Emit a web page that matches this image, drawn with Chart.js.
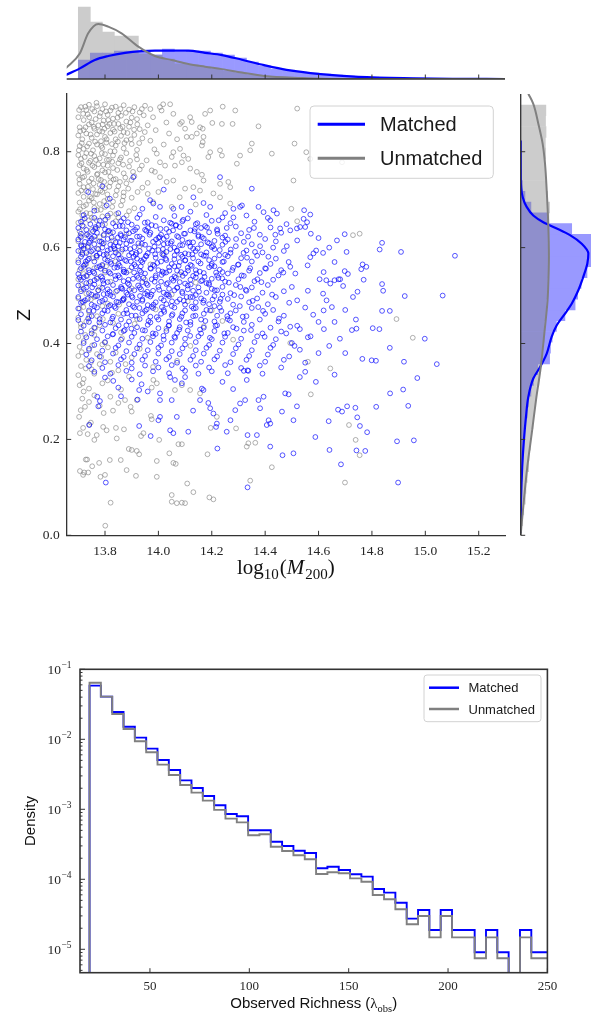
<!DOCTYPE html>
<html>
<head>
<meta charset="utf-8">
<script src="https://cdn.jsdelivr.net/npm/chart.js@4.4.1/dist/chart.umd.min.js"></script>
<style>
  html, body { margin: 0; padding: 0; background: #fff; overflow: hidden; }
  #page { position: relative; width: 591px; height: 1016px; }
  canvas { position: absolute; }
</style>
</head>
<body>
<div id="page">
  <canvas id="topHist" width="591" height="82" style="left:0px;top:0px"></canvas>
  <canvas id="scatter" width="591" height="600" style="left:0px;top:0px"></canvas>
  <canvas id="rightHist" width="81" height="560" style="left:510px;top:0px"></canvas>
  <canvas id="richness" width="591" height="376" style="left:0px;top:640px"></canvas>
</div>
<script>
Chart.defaults.font.family = "'Liberation Serif', serif";
Chart.defaults.color = '#222';

// ---- data ----
const seriesNames = ['Matched', 'Unmatched'];
const matchedColor = '#0000ff';
const unmatchedColor = '#808080';

const massTicks = [13.8, 14.0, 14.2, 14.4, 14.6, 14.8, 15.0, 15.2];
const zTicks = [0.0, 0.2, 0.4, 0.6, 0.8];
const richTicks = [50, 100, 150, 200, 250];
const densityTicks = [1e-5, 1e-4, 1e-3, 1e-2, 1e-1];

// scatter: flat pairs (log10 M200, z)
const unmatchedPts = [
  13.71,0.893, 13.73,0.887, 13.74,0.898, 13.76,0.884, 13.77,0.895, 13.79,0.889, 13.80,0.899, 13.82,0.886, 13.84,0.894, 13.85,0.881, 13.87,0.897, 13.89,0.888, 13.91,0.893, 13.93,0.882, 13.95,0.896, 13.97,0.889,
  13.70,0.872, 13.72,0.866, 13.735,0.878, 13.75,0.861, 13.78,0.874, 13.795,0.865, 13.81,0.877, 13.83,0.869, 13.86,0.875, 13.88,0.863, 13.90,0.871, 13.92,0.868, 13.945,0.876,
  13.705,0.851, 13.72,0.845, 13.74,0.857, 13.76,0.848, 13.775,0.855, 13.79,0.842, 13.81,0.853, 13.83,0.846, 13.85,0.858, 13.87,0.841, 13.89,0.852, 13.93,0.847, 13.96,0.855,
  13.70,0.834, 13.715,0.826, 13.73,0.838, 13.75,0.829, 13.77,0.836, 13.785,0.822, 13.80,0.831, 13.82,0.839, 13.84,0.826, 13.86,0.833, 13.88,0.824, 13.91,0.835, 13.94,0.828,
  13.705,0.812, 13.72,0.806, 13.74,0.817, 13.755,0.803, 13.77,0.815, 13.79,0.808, 13.805,0.819, 13.82,0.801, 13.84,0.813, 13.87,0.807, 13.90,0.816, 13.92,0.804,
  13.70,0.793, 13.71,0.785, 13.73,0.797, 13.745,0.781, 13.76,0.791, 13.78,0.786, 13.80,0.795, 13.815,0.783, 13.83,0.792, 13.86,0.788, 13.88,0.797, 13.92,0.784,
  13.705,0.772, 13.72,0.765, 13.74,0.777, 13.76,0.768, 13.775,0.774, 13.79,0.761, 13.81,0.771, 13.83,0.766, 13.85,0.776, 13.89,0.769, 13.93,0.763,
  13.70,0.754, 13.715,0.746, 13.735,0.758, 13.75,0.744, 13.77,0.752, 13.785,0.741, 13.80,0.757, 13.82,0.748, 13.84,0.743, 13.87,0.755, 13.91,0.749,
  13.705,0.733, 13.72,0.726, 13.74,0.738, 13.755,0.722, 13.78,0.731, 13.80,0.724, 13.82,0.736, 13.85,0.728, 13.88,0.734, 13.94,0.725,
  13.70,0.714, 13.72,0.706, 13.73,0.718, 13.75,0.703, 13.77,0.711, 13.79,0.716, 13.81,0.701, 13.84,0.709, 13.87,0.715, 13.90,0.704, 13.96,0.712,
  13.705,0.694, 13.72,0.686, 13.74,0.698, 13.76,0.683, 13.78,0.691, 13.80,0.685, 13.83,0.696, 13.86,0.688, 13.91,0.682,
  13.70,0.675, 13.715,0.667, 13.73,0.672, 13.75,0.662, 13.77,0.678, 13.79,0.665, 13.82,0.671, 13.85,0.663, 13.89,0.676,
  13.703,0.887, 13.718,0.879, 13.726,0.894, 13.741,0.872, 13.752,0.889, 13.765,0.868, 13.768,0.902, 13.783,0.881, 13.791,0.857, 13.804,0.884, 13.812,0.866,
  13.826,0.892, 13.834,0.858, 13.847,0.871, 13.858,0.889, 13.866,0.852, 13.878,0.881, 13.895,0.861, 13.903,0.884, 13.921,0.857, 13.938,0.889,
  13.707,0.843, 13.713,0.818, 13.727,0.851, 13.733,0.811, 13.746,0.836, 13.758,0.852, 13.763,0.821, 13.779,0.843, 13.786,0.812, 13.798,0.848, 13.806,0.826,
  13.817,0.858, 13.826,0.816, 13.836,0.842, 13.848,0.821, 13.857,0.849, 13.873,0.818, 13.884,0.839, 13.897,0.826, 13.909,0.846, 13.928,0.818, 13.949,0.841,
  13.702,0.803, 13.712,0.776, 13.724,0.789, 13.731,0.762, 13.748,0.796, 13.753,0.771, 13.766,0.783, 13.772,0.754, 13.788,0.797, 13.794,0.773, 13.807,0.783,
  13.813,0.758, 13.827,0.779, 13.836,0.801, 13.846,0.762, 13.856,0.784, 13.868,0.773, 13.876,0.746, 13.894,0.781, 13.905,0.758, 13.917,0.793, 13.938,0.771,
  13.704,0.742, 13.711,0.719, 13.722,0.748, 13.736,0.727, 13.744,0.706, 13.757,0.734, 13.764,0.712, 13.776,0.743, 13.783,0.719, 13.797,0.737,
  13.809,0.711, 13.816,0.727, 13.832,0.742, 13.844,0.719, 13.856,0.737, 13.869,0.707, 13.887,0.723, 13.899,0.741, 13.922,0.716,
  13.706,0.68, 13.717,0.658, 13.729,0.689, 13.744,0.671, 13.758,0.694, 13.769,0.657, 13.784,0.679, 13.797,0.697, 13.811,0.663, 13.827,0.685, 13.842,0.67, 13.866,0.698, 13.881,0.667,
  14.006,0.893, 14.018,0.899, 14.044,0.899, 14.056,0.879, 14.012,0.886, 14.081,0.858, 14.088,0.862, 14.119,0.872, 14.125,0.862, 14.156,0.851,
  14.166,0.848, 14.144,0.838, 14.175,0.879, 14.194,0.886, 14.241,0.894, 14.288,0.886, 14.202,0.86, 14.238,0.858, 14.278,0.858, 14.375,0.853,
  14.106,0.831, 14.125,0.831, 14.169,0.831, 14.166,0.82, 14.163,0.813, 14.056,0.799, 14.081,0.806, 14.05,0.789, 14.094,0.792, 14.088,0.778,
  14.062,0.771, 14.112,0.785, 14.119,0.765, 14.144,0.758, 14.163,0.752, 14.169,0.74, 14.187,0.789, 14.194,0.799, 14.231,0.803, 14.238,0.792,
  14.262,0.737, 14.269,0.726, 14.294,0.775, 14.306,0.792, 14.344,0.803, 14.35,0.817, 14.425,0.796, 14.231,0.705, 14.206,0.713, 14.156,0.719,
  14.131,0.726, 14.1,0.723, 14.056,0.74, 14.031,0.737, 14.006,0.747, 13.987,0.758, 13.975,0.761, 13.956,0.782, 13.994,0.796, 14.006,0.778,
  14.025,0.771, 14.269,0.692, 14.231,0.733, 13.98,0.872, 14.03,0.861, 13.99,0.845, 14.04,0.838, 13.97,0.823, 14.02,0.815, 13.985,0.805,
  14.07,0.826, 14.10,0.848, 13.96,0.735, 14.00,0.716, 14.08,0.705, 13.98,0.695, 14.05,0.685, 14.14,0.69,
  14.52,0.89, 14.51,0.817, 14.506,0.74, 14.554,0.799, 14.569,0.785, 14.688,0.778, 14.52,0.655, 14.498,0.681, 14.729,0.626, 14.754,0.629,
  14.892,0.451, 14.953,0.412, 14.754,0.167, 14.699,0.11, 14.714,0.23, 14.739,0.199, 14.56,0.362, 14.571,0.294, 14.644,0.348, 14.494,0.401,
  13.70,0.652, 13.72,0.644, 13.74,0.657, 13.77,0.641, 13.80,0.649, 13.84,0.655,
  13.705,0.634, 13.73,0.626, 13.75,0.637, 13.78,0.622, 13.82,0.631, 13.88,0.628,
  13.70,0.613, 13.72,0.604, 13.76,0.617, 13.79,0.608, 13.83,0.615, 13.93,0.603,
  13.71,0.593, 13.74,0.586, 13.77,0.598, 13.81,0.582, 13.86,0.591, 14.02,0.588,
  13.70,0.574, 13.73,0.566, 13.755,0.578, 13.79,0.562, 13.84,0.571, 13.97,0.565,
  13.705,0.553, 13.72,0.545, 13.76,0.557, 13.80,0.548, 13.89,0.552, 14.08,0.544,
  13.70,0.534, 13.74,0.526, 13.77,0.538, 13.82,0.529, 13.95,0.533, 14.14,0.527,
  13.71,0.513, 13.73,0.504, 13.78,0.517, 13.84,0.508, 13.90,0.515, 14.05,0.502,
  13.70,0.494, 13.72,0.486, 13.76,0.497, 13.81,0.483, 13.87,0.491, 14.11,0.488,
  13.705,0.473, 13.74,0.466, 13.79,0.478, 13.85,0.462, 13.99,0.471, 14.20,0.469,
  13.70,0.454, 13.73,0.446, 13.77,0.457, 13.83,0.443, 13.92,0.451, 14.24,0.447,
  13.71,0.434, 13.75,0.427, 13.78,0.438, 13.86,0.423, 14.03,0.431, 14.17,0.436,
  13.70,0.414, 13.72,0.405, 13.76,0.418, 13.80,0.402, 13.96,0.412, 14.28,0.408,
  13.705,0.393, 13.74,0.386, 13.79,0.398, 13.84,0.381, 13.93,0.389, 14.12,0.395,
  13.70,0.374, 13.73,0.366, 13.77,0.378, 13.82,0.362, 13.90,0.371, 14.07,0.364,
  13.71,0.353, 13.75,0.346, 13.78,0.357, 13.85,0.344, 13.98,0.351,
  13.70,0.334, 13.72,0.326, 13.76,0.337, 13.81,0.323, 13.89,0.331,
  13.705,0.313, 13.74,0.306, 13.79,0.317, 13.86,0.304,
  13.707,0.624, 13.716,0.589, 13.723,0.558, 13.711,0.522, 13.719,0.476, 13.709,0.441, 13.726,0.418, 13.713,0.382, 13.728,0.348, 13.716,0.317,
  13.738,0.603, 13.734,0.541, 13.747,0.492, 13.741,0.457, 13.752,0.396, 13.747,0.361, 13.768,0.579, 13.774,0.511, 13.763,0.432, 13.786,0.372,
  13.797,0.628, 13.804,0.561, 13.792,0.451, 13.811,0.392, 13.826,0.339, 13.838,0.596, 13.853,0.481, 13.864,0.411, 13.877,0.357, 13.911,0.441,
  13.801,0.02, 13.821,0.068, 13.706,0.134, 13.722,0.131, 13.737,0.131, 13.718,0.126, 13.728,0.158, 13.733,0.158, 13.752,0.144, 13.778,0.151,
  13.783,0.122, 13.80,0.126, 13.818,0.157, 13.859,0.157, 13.881,0.136, 13.916,0.124, 13.889,0.18, 13.90,0.178, 13.919,0.176, 13.928,0.169,
  13.871,0.221, 13.844,0.202, 13.769,0.209, 13.76,0.199, 13.706,0.213, 13.718,0.224, 13.735,0.211, 13.703,0.247, 13.709,0.261, 13.725,0.268,
  13.741,0.231, 13.747,0.235, 13.793,0.226, 13.806,0.219, 13.841,0.224, 13.935,0.207, 13.944,0.213, 13.972,0.249, 13.975,0.242, 14.003,0.199,
  13.994,0.155, 13.994,0.122, 14.041,0.171, 14.056,0.151, 14.065,0.149, 14.075,0.19, 14.088,0.19, 14.05,0.084, 14.05,0.07, 14.069,0.067,
  14.088,0.068, 14.10,0.067, 14.108,0.108, 14.131,0.09, 14.191,0.079, 14.206,0.075, 14.184,0.169, 14.196,0.224, 14.219,0.247, 14.291,0.223,
  14.331,0.185, 14.337,0.192, 14.344,0.114, 14.363,0.193, 14.425,0.142, 14.119,0.303, 14.156,0.296, 14.062,0.303, 14.088,0.313, 13.981,0.324,
  13.994,0.317, 13.975,0.308, 13.896,0.268, 13.875,0.282, 13.90,0.258, 13.919,0.282, 13.715,0.285, 13.74,0.278, 13.76,0.292, 13.78,0.27,
  13.82,0.289, 13.85,0.276, 13.72,0.30, 13.795,0.255, 13.83,0.26
];

const matchedPts = [
  13.72,0.668, 13.76,0.662, 13.81,0.667, 13.87,0.661, 13.93,0.669, 13.99,0.664, 14.06,0.666, 14.11,0.661, 14.18,0.668, 14.24,0.663, 14.33,0.667, 14.41,0.662,
  13.71,0.654, 13.745,0.649, 13.78,0.656, 13.83,0.651, 13.86,0.655, 13.90,0.648, 13.96,0.653, 14.02,0.657, 14.05,0.65, 14.09,0.655, 14.14,0.649, 14.20,0.656, 14.27,0.651, 14.36,0.654, 14.48,0.649,
  13.70,0.641, 13.73,0.637, 13.765,0.643, 13.80,0.638, 13.84,0.644, 13.88,0.636, 13.92,0.642, 13.95,0.637, 13.99,0.645, 14.03,0.639, 14.08,0.643, 14.12,0.636, 14.16,0.641, 14.22,0.638, 14.29,0.644, 14.34,0.637, 14.42,0.642,
  13.71,0.629, 13.74,0.624, 13.77,0.631, 13.795,0.626, 13.83,0.632, 13.86,0.625, 13.89,0.63, 13.93,0.623, 13.97,0.631, 14.01,0.627, 14.04,0.633, 14.07,0.624, 14.10,0.629, 14.15,0.626, 14.19,0.632, 14.25,0.625, 14.31,0.63, 14.38,0.627, 14.46,0.631,
  13.70,0.617, 13.725,0.612, 13.75,0.619, 13.78,0.613, 13.81,0.618, 13.84,0.611, 13.87,0.617, 13.90,0.614, 13.94,0.619, 13.98,0.612, 14.02,0.618, 14.05,0.613, 14.09,0.616, 14.13,0.611, 14.17,0.619, 14.21,0.614, 14.26,0.617, 14.32,0.612, 14.40,0.618, 14.44,0.613,
  13.71,0.605, 13.735,0.601, 13.76,0.607, 13.79,0.60, 13.82,0.606, 13.85,0.603, 13.88,0.608, 13.91,0.601, 13.95,0.606, 13.985,0.602, 14.02,0.607, 14.06,0.60, 14.09,0.605, 14.12,0.602, 14.16,0.607, 14.20,0.601, 14.24,0.606, 14.29,0.603, 14.35,0.607, 14.43,0.60,
  13.70,0.593, 13.73,0.589, 13.755,0.595, 13.78,0.588, 13.81,0.594, 13.84,0.59, 13.865,0.596, 13.90,0.589, 13.93,0.593, 13.96,0.588, 14.00,0.595, 14.03,0.591, 14.07,0.594, 14.10,0.588, 14.14,0.593, 14.18,0.59, 14.23,0.595, 14.27,0.589, 14.33,0.594, 14.39,0.59, 14.47,0.593,
  13.71,0.581, 13.74,0.577, 13.77,0.583, 13.80,0.576, 13.83,0.582, 13.86,0.578, 13.89,0.584, 13.92,0.577, 13.955,0.582, 13.99,0.579, 14.02,0.584, 14.06,0.576, 14.09,0.581, 14.13,0.578, 14.17,0.583, 14.21,0.577, 14.26,0.582, 14.31,0.578, 14.37,0.583, 14.44,0.577,
  13.70,0.569, 13.725,0.565, 13.76,0.571, 13.79,0.564, 13.82,0.57, 13.85,0.566, 13.88,0.572, 13.91,0.565, 13.94,0.57, 13.98,0.564, 14.01,0.571, 14.05,0.566, 14.08,0.57, 14.12,0.564, 14.15,0.571, 14.20,0.566, 14.24,0.57, 14.30,0.565, 14.35,0.571, 14.42,0.566,
  13.71,0.557, 13.74,0.553, 13.77,0.559, 13.80,0.552, 13.835,0.558, 13.87,0.554, 13.90,0.559, 13.93,0.552, 13.97,0.557, 14.00,0.553, 14.04,0.559, 14.07,0.552, 14.11,0.558, 14.14,0.553, 14.19,0.559, 14.23,0.554, 14.28,0.558, 14.34,0.552, 14.40,0.557, 14.46,0.553,
  13.70,0.545, 13.73,0.541, 13.76,0.547, 13.785,0.54, 13.82,0.546, 13.85,0.542, 13.88,0.548, 13.92,0.541, 13.95,0.546, 13.99,0.542, 14.02,0.547, 14.06,0.54, 14.10,0.546, 14.13,0.541, 14.17,0.547, 14.22,0.542, 14.26,0.546, 14.32,0.541, 14.38,0.547, 14.45,0.542,
  13.71,0.533, 13.745,0.529, 13.77,0.535, 13.81,0.528, 13.84,0.534, 13.87,0.53, 13.905,0.535, 13.94,0.528, 13.975,0.534, 14.01,0.529, 14.05,0.535, 14.08,0.528, 14.12,0.533, 14.16,0.53, 14.20,0.535, 14.25,0.529, 14.30,0.534, 14.36,0.53, 14.43,0.533,
  13.70,0.521, 13.73,0.517, 13.76,0.523, 13.79,0.516, 13.83,0.522, 13.86,0.518, 13.89,0.523, 13.93,0.517, 13.96,0.522, 14.00,0.518, 14.03,0.524, 14.07,0.516, 14.11,0.521, 14.15,0.517, 14.19,0.523, 14.24,0.518, 14.29,0.522, 14.35,0.517, 14.41,0.522, 14.50,0.518,
  13.71,0.509, 13.74,0.505, 13.775,0.511, 13.81,0.504, 13.845,0.51, 13.88,0.506, 13.91,0.511, 13.95,0.504, 13.98,0.51, 14.02,0.506, 14.06,0.511, 14.09,0.505, 14.13,0.51, 14.18,0.506, 14.22,0.511, 14.27,0.505, 14.33,0.51, 14.39,0.506, 14.47,0.509,
  13.70,0.497, 13.735,0.493, 13.765,0.499, 13.80,0.492, 13.83,0.498, 13.87,0.494, 13.90,0.499, 13.94,0.492, 13.97,0.498, 14.01,0.494, 14.04,0.499, 14.08,0.492, 14.12,0.497, 14.16,0.494, 14.21,0.499, 14.26,0.493, 14.31,0.498, 14.37,0.494, 14.44,0.497,
  13.71,0.485, 13.75,0.481, 13.78,0.487, 13.82,0.48, 13.85,0.486, 13.89,0.482, 13.92,0.487, 13.96,0.48, 13.99,0.486, 14.03,0.482, 14.07,0.487, 14.10,0.481, 14.14,0.486, 14.19,0.482, 14.23,0.487, 14.28,0.481, 14.34,0.486, 14.41,0.482, 14.49,0.485,
  13.70,0.473, 13.74,0.469, 13.77,0.475, 13.81,0.468, 13.84,0.474, 13.88,0.47, 13.91,0.475, 13.95,0.468, 13.98,0.474, 14.02,0.47, 14.06,0.475, 14.10,0.469, 14.14,0.474, 14.18,0.47, 14.23,0.475, 14.29,0.469, 14.35,0.474, 14.43,0.47,
  13.71,0.461, 13.75,0.457, 13.79,0.463, 13.83,0.456, 13.87,0.462, 13.90,0.458, 13.94,0.463, 13.97,0.456, 14.01,0.462, 14.05,0.458, 14.09,0.463, 14.13,0.457, 14.17,0.462, 14.22,0.458, 14.27,0.463, 14.33,0.457, 14.40,0.462, 14.47,0.458,
  13.70,0.449, 13.74,0.445, 13.78,0.451, 13.82,0.444, 13.86,0.45, 13.89,0.446, 13.93,0.451, 13.97,0.444, 14.00,0.45, 14.04,0.446, 14.08,0.451, 14.12,0.445, 14.16,0.45, 14.21,0.446, 14.26,0.451, 14.32,0.445, 14.38,0.45, 14.45,0.446,
  13.72,0.437, 13.76,0.433, 13.80,0.439, 13.84,0.432, 13.88,0.438, 13.92,0.434, 13.96,0.439, 14.00,0.432, 14.04,0.438, 14.08,0.434, 14.12,0.439, 14.17,0.433, 14.22,0.438, 14.28,0.434, 14.35,0.439, 14.42,0.433, 14.52,0.437,
  13.71,0.425, 13.75,0.421, 13.79,0.427, 13.83,0.42, 13.87,0.426, 13.91,0.422, 13.95,0.427, 13.99,0.42, 14.03,0.426, 14.07,0.422, 14.11,0.427, 14.16,0.421, 14.21,0.426, 14.26,0.422, 14.32,0.427, 14.39,0.421, 14.46,0.425,
  13.73,0.413, 13.77,0.409, 13.81,0.415, 13.86,0.408, 13.90,0.414, 13.94,0.41, 13.98,0.415, 14.02,0.408, 14.06,0.414, 14.10,0.41, 14.15,0.415, 14.20,0.409, 14.25,0.414, 14.31,0.41, 14.37,0.415, 14.44,0.409, 14.56,0.413,
  13.72,0.401, 13.76,0.397, 13.80,0.403, 13.85,0.396, 13.89,0.402, 13.93,0.398, 13.97,0.403, 14.01,0.396, 14.05,0.402, 14.10,0.398, 14.14,0.403, 14.19,0.397, 14.24,0.402, 14.30,0.398, 14.36,0.403, 14.43,0.397, 14.50,0.401,
  13.74,0.389, 13.79,0.385, 13.84,0.391, 13.88,0.384, 13.92,0.39, 13.96,0.386, 14.00,0.391, 14.05,0.384, 14.09,0.39, 14.14,0.386, 14.18,0.391, 14.23,0.385, 14.29,0.39, 14.35,0.386, 14.42,0.391, 14.53,0.387,
  13.73,0.377, 13.78,0.373, 13.83,0.379, 13.87,0.372, 13.91,0.378, 13.95,0.374, 14.00,0.379, 14.04,0.372, 14.08,0.378, 14.13,0.374, 14.17,0.379, 14.22,0.373, 14.28,0.378, 14.34,0.374, 14.41,0.377, 14.49,0.373,
  13.75,0.365, 13.80,0.361, 13.86,0.367, 13.90,0.36, 13.94,0.366, 13.99,0.362, 14.03,0.367, 14.07,0.36, 14.12,0.366, 14.16,0.362, 14.21,0.367, 14.27,0.361, 14.33,0.366, 14.40,0.362, 14.47,0.366,
  13.74,0.353, 13.79,0.349, 13.85,0.355, 13.90,0.348, 13.95,0.354, 14.00,0.35, 14.05,0.355, 14.09,0.348, 14.14,0.354, 14.19,0.35, 14.25,0.355, 14.31,0.349, 14.38,0.354, 14.46,0.35,
  13.76,0.341, 13.82,0.337, 13.88,0.343, 13.93,0.336, 13.98,0.342, 14.04,0.338, 14.10,0.343, 14.15,0.337, 14.20,0.342, 14.26,0.338, 14.32,0.343, 14.39,0.337, 14.55,0.341,
  13.715,0.646, 13.79,0.647, 13.855,0.645, 13.975,0.647, 14.065,0.646, 14.175,0.645,
  13.755,0.634, 13.815,0.635, 13.905,0.634, 13.955,0.635, 14.055,0.636, 14.135,0.634, 14.22,0.635,
  13.71,0.622, 13.76,0.623, 13.825,0.621, 13.875,0.622, 13.92,0.623, 14.00,0.621, 14.075,0.622, 14.15,0.623, 14.24,0.621,
  13.74,0.61, 13.795,0.609, 13.855,0.61, 13.925,0.609, 14.00,0.61, 14.035,0.609, 14.11,0.61, 14.19,0.609,
  13.72,0.598, 13.775,0.597, 13.835,0.598, 13.895,0.597, 13.965,0.598, 14.045,0.597, 14.13,0.598, 14.21,0.597,
  13.715,0.586, 13.795,0.585, 13.85,0.586, 13.915,0.585, 14.015,0.586, 14.085,0.585, 14.16,0.586, 14.25,0.585,
  13.735,0.574, 13.81,0.573, 13.875,0.574, 13.935,0.573, 14.03,0.574, 14.10,0.573, 14.19,0.574,
  13.72,0.562, 13.78,0.561, 13.855,0.562, 13.915,0.561, 13.985,0.562, 14.06,0.561, 14.125,0.562, 14.21,0.561,
  13.755,0.55, 13.815,0.549, 13.87,0.55, 13.935,0.549, 14.015,0.55, 14.085,0.549, 14.155,0.55, 14.24,0.549,
  13.72,0.538, 13.79,0.537, 13.855,0.538, 13.925,0.537, 13.99,0.538, 14.065,0.537, 14.14,0.538, 14.225,0.537,
  13.73,0.526, 13.795,0.525, 13.885,0.526, 13.955,0.525, 14.035,0.526, 14.10,0.525, 14.18,0.526,
  13.72,0.514, 13.81,0.513, 13.865,0.514, 13.935,0.513, 14.04,0.514, 14.11,0.513, 14.20,0.514,
  13.75,0.502, 13.82,0.501, 13.885,0.502, 13.96,0.501, 14.03,0.502, 14.14,0.501, 14.24,0.502,
  13.725,0.49, 13.79,0.489, 13.865,0.49, 13.94,0.489, 14.02,0.49, 14.095,0.489, 14.17,0.49,
  13.76,0.478, 13.835,0.477, 13.905,0.478, 13.975,0.477, 14.05,0.478, 14.125,0.477, 14.21,0.478,
  13.712,0.603, 13.728,0.571, 13.733,0.628, 13.741,0.548, 13.748,0.592, 13.752,0.517, 13.763,0.639, 13.768,0.583, 13.771,0.499, 13.784,0.556,
  13.787,0.612, 13.792,0.531, 13.798,0.469, 13.806,0.587, 13.811,0.634, 13.817,0.508, 13.823,0.566, 13.827,0.452, 13.832,0.603, 13.838,0.541,
  13.843,0.487, 13.848,0.621, 13.853,0.577, 13.861,0.515, 13.866,0.645, 13.872,0.549, 13.877,0.598, 13.883,0.463, 13.888,0.533, 13.894,0.614,
  13.897,0.571, 13.903,0.496, 13.909,0.548, 13.913,0.637, 13.918,0.589, 13.924,0.521, 13.929,0.474, 13.934,0.561, 13.938,0.608, 13.944,0.537,
  13.949,0.652, 13.953,0.583, 13.958,0.508, 13.963,0.447, 13.967,0.627, 13.972,0.556, 13.977,0.594, 13.982,0.481, 13.986,0.529, 13.991,0.617,
  13.996,0.568, 14.003,0.512, 14.008,0.639, 14.012,0.543, 14.017,0.597, 14.022,0.466, 14.027,0.577, 14.031,0.623, 14.036,0.502, 14.041,0.552,
  14.046,0.609, 14.051,0.488, 14.056,0.531, 14.061,0.584, 14.066,0.647, 14.071,0.517, 14.076,0.562, 14.081,0.605, 14.086,0.456, 14.091,0.541,
  14.096,0.629, 14.101,0.574, 14.106,0.497, 14.111,0.552, 14.116,0.611, 14.121,0.523, 14.127,0.586, 14.132,0.473, 14.137,0.639, 14.142,0.546,
  14.147,0.598, 14.152,0.508, 14.158,0.567, 14.163,0.622, 14.168,0.485, 14.173,0.539, 14.178,0.583, 14.184,0.611, 14.189,0.526, 14.194,0.469,
  14.199,0.562, 14.205,0.603, 14.211,0.511, 14.216,0.548, 14.222,0.629, 14.228,0.584, 14.233,0.493, 14.239,0.536, 14.245,0.571, 14.251,0.612,
  14.258,0.457, 14.264,0.527, 14.271,0.596, 14.277,0.553, 14.284,0.501, 14.291,0.618, 14.298,0.564, 14.305,0.478, 14.312,0.542, 14.319,0.589,
  14.327,0.512, 14.336,0.623, 14.344,0.557, 14.353,0.489, 14.362,0.591, 14.371,0.534, 14.381,0.603, 14.392,0.468, 14.403,0.556,
  13.705,0.538, 13.716,0.487, 13.724,0.661, 13.737,0.452, 13.744,0.614, 13.757,0.468, 13.761,0.532, 13.776,0.647, 13.779,0.444, 13.795,0.503,
  13.801,0.658, 13.814,0.478, 13.821,0.597, 13.829,0.419, 13.846,0.559, 13.851,0.438, 13.858,0.628, 13.869,0.492, 13.874,0.428, 13.886,0.653,
  13.891,0.512, 13.899,0.431, 13.907,0.581, 13.915,0.458, 13.921,0.662, 13.931,0.499, 13.941,0.428, 13.946,0.576, 13.956,0.471, 13.961,0.641,
  13.974,0.502, 13.979,0.421, 13.988,0.586, 13.994,0.455, 14.005,0.622, 14.013,0.476, 14.019,0.416, 14.029,0.548, 14.038,0.437, 14.044,0.652,
  14.053,0.461, 14.063,0.412, 14.069,0.593, 14.078,0.429, 14.089,0.508, 14.093,0.658, 14.104,0.444, 14.113,0.586, 14.119,0.416, 14.129,0.497,
  14.139,0.458, 14.146,0.651, 14.156,0.429, 14.164,0.532, 14.176,0.447, 14.182,0.642, 14.193,0.412, 14.203,0.492, 14.214,0.437, 14.226,0.657,
  14.236,0.468, 14.247,0.421, 14.256,0.641, 14.268,0.448, 14.281,0.663, 14.293,0.431, 14.307,0.518, 14.316,0.456, 14.332,0.579, 14.347,0.428,
  14.358,0.641, 14.374,0.476, 14.386,0.528, 14.398,0.414, 14.412,0.581, 14.426,0.502, 14.438,0.627, 14.452,0.452, 14.468,0.548, 14.481,0.603,
  14.231,0.747, 14.35,0.723, 14.131,0.705, 13.906,0.747, 13.818,0.702, 13.806,0.688, 13.737,0.716, 14.169,0.693, 14.194,0.685, 14.281,0.681,
  14.306,0.685, 14.313,0.688, 14.375,0.685, 14.394,0.674, 14.431,0.678, 14.444,0.671, 14.419,0.657, 14.456,0.64, 14.494,0.636, 14.519,0.64,
  13.981,0.692, 13.969,0.699, 14.006,0.685, 14.056,0.681, 14.087,0.685, 14.55,0.643, 14.557,0.653, 14.544,0.66, 14.531,0.643, 14.546,0.678,
  14.569,0.669, 14.571,0.629, 13.76,0.677, 13.85,0.672, 13.94,0.681, 14.12,0.675, 14.25,0.672, 13.79,0.728, 14.02,0.721,
  15.111,0.583, 15.065,0.50, 14.909,0.591, 14.923,0.499, 14.838,0.61, 14.829,0.596, 14.838,0.524, 14.842,0.51, 14.765,0.565, 14.779,0.56,
  14.76,0.555, 14.769,0.533, 14.746,0.508, 14.729,0.497, 14.705,0.591, 14.698,0.628, 14.669,0.615, 14.675,0.534, 14.681,0.534, 14.66,0.532,
  14.698,0.551, 14.692,0.52, 14.644,0.525, 14.65,0.476, 14.617,0.504, 14.629,0.532, 14.604,0.534, 14.569,0.58, 14.581,0.588, 14.617,0.589,
  14.591,0.594, 14.619,0.549, 14.559,0.563, 14.513,0.546, 14.494,0.56, 14.488,0.57, 14.619,0.469, 14.838,0.468, 14.867,0.468, 14.998,0.41,
  15.043,0.357, 14.97,0.328, 14.917,0.304, 14.936,0.27, 14.894,0.196, 14.957,0.198, 14.898,0.11, 14.816,0.268, 14.782,0.215, 14.775,0.176,
  14.742,0.177, 14.684,0.148, 14.641,0.178, 14.588,0.205, 14.638,0.238, 14.755,0.228, 14.745,0.246, 14.738,0.266, 14.707,0.269, 14.673,0.262,
  14.688,0.258, 14.764,0.368, 14.799,0.365, 14.815,0.364, 14.92,0.362, 14.867,0.391, 14.803,0.432, 14.828,0.43, 14.725,0.428, 14.742,0.431,
  14.868,0.296, 14.52,0.49, 14.55,0.475, 14.58,0.46, 14.60,0.445, 14.53,0.43, 14.57,0.415, 14.62,0.43, 14.66,0.445, 14.68,0.41,
  14.51,0.395, 14.60,0.38, 14.64,0.395, 14.55,0.36, 14.70,0.38, 14.66,0.335, 14.59,0.32, 14.53,0.33, 14.70,0.47, 14.74,0.45,
  14.63,0.49, 14.56,0.51, 14.60,0.62, 14.52,0.615, 14.64,0.60, 14.66,0.57, 14.71,0.545,
  13.803,0.11, 13.971,0.207, 13.928,0.228, 13.922,0.283, 13.928,0.303, 13.937,0.315, 13.85,0.308, 13.831,0.322, 13.80,0.329, 13.771,0.289,
  13.781,0.28, 13.775,0.269, 13.741,0.23, 14.006,0.296, 14.006,0.282, 14.05,0.282, 14.044,0.219, 14.056,0.213, 14.069,0.247, 14.112,0.216,
  14.163,0.306, 14.169,0.303, 14.156,0.282, 14.187,0.276, 14.194,0.265, 14.206,0.254, 14.219,0.233, 14.216,0.226, 14.221,0.181, 14.256,0.216,
  14.288,0.261, 14.306,0.275, 14.325,0.282, 14.334,0.344, 14.337,0.343, 14.331,0.324, 14.334,0.209, 14.369,0.209, 14.334,0.10, 14.419,0.185,
  14.419,0.233, 14.413,0.24, 14.406,0.23, 14.375,0.282, 14.394,0.289, 14.381,0.265, 14.463,0.258, 14.475,0.296, 14.488,0.294, 14.506,0.24,
  14.519,0.269, 14.479,0.421, 14.494,0.435, 14.506,0.171, 14.465,0.167, 14.088,0.317, 14.062,0.324, 14.044,0.33, 14.006,0.247, 14.00,0.24,
  13.90,0.325, 14.10,0.33, 14.24,0.32, 14.28,0.305, 13.96,0.30, 14.13,0.26, 14.27,0.24, 13.86,0.29
];

// marginal histograms (density) and KDE curves
const massBins = [13.7225, 13.7675, 13.8125, 13.8575, 13.9025, 13.9475, 13.9925, 14.0375, 14.0825, 14.1275, 14.1725, 14.2175, 14.2625, 14.3075, 14.3525, 14.3975,
  14.4425, 14.4875, 14.5325, 14.5775, 14.6225, 14.6675, 14.7125, 14.7575, 14.8025, 14.8475, 14.8925, 14.9375, 14.9825, 15.0275, 15.0725, 15.1175];
const matchedMassHist = [0.77, 1.05, 1.05, 1.13, 1.13, 1.09, 0.97, 1.21, 1.09, 1.13, 1.13, 1.05, 0.97, 0.85, 0.69, 0.53,
  0.40, 0.36, 0.28, 0.24, 0.20, 0.16, 0.12, 0.10, 0.08, 0.06, 0.05, 0.04, 0.03, 0.02, 0.02, 0.01];
const unmatchedMassHist = [2.91, 2.31, 1.90, 1.74, 1.74, 1.01, 0.97, 0.81, 0.61, 0.57, 0.49, 0.40, 0.32, 0.24, 0.16, 0.12,
  0.08, 0.06, 0.04, 0.02, 0.02, 0.01, 0.01, 0, 0, 0.01, 0, 0, 0, 0, 0, 0];
const matchedKdeMass = [13.653, 13.706, 13.762, 13.812, 13.875, 13.937, 13.987, 14.05, 14.112, 14.175, 14.238, 14.313, 14.396, 14.48, 14.608, 14.749, 14.962, 15.102, 15.297];
const matchedKdeMassDens = [0.16, 0.43, 0.77, 0.93, 1.06, 1.13, 1.15, 1.15, 1.15, 1.06, 0.97, 0.78, 0.56, 0.37, 0.20, 0.09, 0.03, 0.01, 0.0];
const unmatchedKdeMass = [13.653, 13.706, 13.737, 13.775, 13.812, 13.862, 13.925, 13.987, 14.05, 14.112, 14.175, 14.238, 14.313, 14.396, 14.537, 14.678, 15.3];
const unmatchedKdeMassDens = [0.43, 1.04, 1.85, 2.23, 2.12, 1.85, 1.31, 0.93, 0.77, 0.61, 0.50, 0.40, 0.26, 0.12, 0.04, 0.0, 0.0];

const zBins = [0.0313, 0.0538, 0.0763, 0.0988, 0.1213, 0.1438, 0.1663, 0.1888, 0.2113, 0.2338, 0.2563, 0.2788, 0.3013, 0.3238, 0.3463, 0.3688, 0.3913, 0.4138, 0.4363, 0.4588,
  0.4813, 0.5038, 0.5263, 0.5488, 0.5713, 0.5938, 0.6163, 0.6388, 0.6613, 0.6838, 0.7063, 0.7288, 0.7513, 0.7738, 0.7963, 0.8188, 0.8413, 0.8638, 0.8863];
const matchedZHist = [0, 0, 0, 0.02, 0.06, 0.08, 0.11, 0.14, 0.21, 0.27, 0.38, 0.45, 0.60, 0.75, 1.00, 1.70, 1.75, 1.85, 2.10, 2.60,
  3.20, 3.35, 3.55, 3.90, 4.40, 4.45, 4.25, 3.00, 1.60, 0.60, 0.25, 0.10, 0.03, 0.01, 0, 0, 0, 0, 0];
const unmatchedZHist = [0.12, 0.18, 0.27, 0.31, 0.38, 0.47, 0.49, 0.57, 0.60, 0.72, 0.76, 0.88, 0.93, 1.07, 1.12, 1.27, 1.29, 1.37, 1.38, 1.47,
  1.49, 1.56, 1.57, 1.62, 1.60, 1.64, 1.58, 1.61, 1.66, 1.70, 1.58, 1.52, 1.46, 1.44, 1.47, 1.45, 1.49, 1.46, 1.48];
const matchedKdeZ = [0.005, 0.0735, 0.143, 0.199, 0.247, 0.289, 0.327, 0.351, 0.379, 0.414, 0.438, 0.4625, 0.483, 0.511, 0.539, 0.567, 0.5875, 0.608, 0.626, 0.640, 0.653, 0.667, 0.685, 0.705, 0.747, 0.8235];
const matchedKdeZDens = [0, 0.02, 0.09, 0.19, 0.31, 0.45, 0.74, 1.14, 1.53, 1.82, 2.12, 2.61, 3.0, 3.39, 3.68, 3.92, 3.98, 3.59, 2.90, 2.12, 1.33, 0.74, 0.35, 0.12, 0.0, 0.0];
const unmatchedKdeZ = [0.0, 0.018, 0.074, 0.143, 0.2125, 0.282, 0.351, 0.421, 0.49, 0.511, 0.58, 0.65, 0.719, 0.775, 0.817, 0.858, 0.9, 0.921];
const unmatchedKdeZDens = [0.0, 0.04, 0.19, 0.39, 0.65, 0.90, 1.18, 1.39, 1.58, 1.61, 1.66, 1.62, 1.53, 1.43, 1.29, 1.04, 0.74, 0.45];

// richness histogram (density per bin, step outline)
const richEdges = [19.6, 25.3, 31.0, 36.7, 42.4, 48.1, 53.8, 59.5, 65.2, 70.9, 76.6, 82.3, 88.0, 93.7, 99.4, 105.1, 110.8, 116.5, 122.2, 127.9, 133.6,
  139.3, 145.0, 150.7, 156.4, 162.1, 167.8, 173.5, 179.2, 184.9, 190.6, 196.3, 202.0, 207.7, 213.4, 219.1, 224.8, 230.5, 236.2, 241.9, 247.6, 253.3];
const matchedRichness = [0.0584, 0.0407, 0.0245, 0.0151, 0.01055, 0.00735, 0.00506, 0.00364, 0.00259, 0.00201, 0.00155, 0.00114, 0.000857, 0.000794,
  0.000503, 0.000503, 0.000344, 0.000299, 0.000256, 0.000238, 0.000144, 0.000151, 0.000136, 0.000118, 0.000109, 0.0000726, 0.0000644, 0.0000463,
  0.0000274, 0.0000364, 0.0000189, 0.0000364, 0.0000189, 0.0000189, 0.00000906, 0.0000189, 0.00000906, 0, 0.0000189, 0.00000906, 0.00000906];
const unmatchedRichness = [0.0644, 0.0407, 0.0230, 0.0140, 0.00936, 0.00652, 0.00434, 0.00309, 0.00222, 0.00173, 0.00133, 0.00098, 0.000735, 0.000651,
  0.000425, 0.00044, 0.000292, 0.000254, 0.000220, 0.000193, 0.000119, 0.000126, 0.000122, 0.000103, 0.0000924, 0.0000597, 0.0000518, 0.0000373,
  0.0000228, 0.0000299, 0.0000148, 0.0000299, 0.0000148, 0.0000148, 0.00000743, 0.0000148, 0.00000743, 0, 0.0000148, 0.00000743, 0.00000743];

// blended fills of the two translucent histograms (blue 0.4 under grey 0.4)
const onlyMatchedFill = '#9999ff';
const onlyUnmatchedFill = '#cccccc';
const bothFill = '#8f8fcc';

// ---- helpers ----
function toXY(flat) {
  const out = [];
  for (let i = 0; i < flat.length; i += 2) out.push({x: flat[i], y: flat[i + 1]});
  return out;
}
function zip(xs, ys) {
  return xs.map((x, i) => ({x: x, y: ys[i]}));
}
function zipY(ys, xs) {
  return ys.map((y, i) => ({x: xs[i], y: y}));
}
function stepPoints(values) {
  const tiny = 1e-9;
  const pts = [{x: richEdges[0], y: tiny}];
  values.forEach((v, i) => pts.push({x: richEdges[i], y: v > 0 ? v : tiny}));
  const last = values[values.length - 1];
  pts.push({x: richEdges[values.length], y: last > 0 ? last : tiny});
  return pts;
}
// two opaque layers that reproduce the look of overlapping translucent bars
function histLayers(a, b) {
  return {
    outer: a.map((v, i) => Math.max(v, b[i])),
    outerColors: a.map((v, i) => v >= b[i] ? onlyMatchedFill : onlyUnmatchedFill),
    inner: a.map((v, i) => Math.min(v, b[i]))
  };
}
function fixTicks(list) {
  return scale => { scale.ticks = list.map(v => ({value: v})); };
}
function line(ctx, x0, y0, x1, y1) {
  ctx.beginPath(); ctx.moveTo(x0, y0); ctx.lineTo(x1, y1); ctx.stroke();
}
function drawParts(ctx, parts, cx, baseline) {
  let total = 0;
  parts.forEach(p => { ctx.font = p.f; p.w = ctx.measureText(p.t).width + (p.gap || 0); total += p.w; });
  let x = cx - total / 2;
  ctx.textAlign = 'left';
  ctx.textBaseline = 'alphabetic';
  parts.forEach(p => { ctx.font = p.f; ctx.fillText(p.t, x, baseline + (p.dy || 0)); x += p.w; });
}
function drawLegend(ctx, box, rows) {
  ctx.save();
  ctx.beginPath();
  ctx.roundRect(box.x, box.y, box.w, box.h, box.r);
  ctx.fillStyle = 'rgba(255,255,255,0.85)';
  ctx.fill();
  ctx.strokeStyle = '#d2d2d2';
  ctx.lineWidth = 1;
  ctx.stroke();
  rows.forEach(r => {
    ctx.strokeStyle = r.color;
    ctx.lineWidth = r.lw;
    line(ctx, r.x0, r.y, r.x1, r.y);
    ctx.fillStyle = '#1a1a1a';
    ctx.font = r.font;
    ctx.textAlign = 'left';
    ctx.textBaseline = 'middle';
    ctx.fillText(r.label, r.tx, r.y + 1);
  });
  ctx.restore();
}

const common = {
  responsive: false,
  animation: false,
  events: [],
  plugins: {legend: {display: false}, tooltip: {enabled: false}}
};
const spine = '#333333';

// ---- top marginal: mass ----
const massLayers = histLayers(matchedMassHist, unmatchedMassHist);
new Chart(document.getElementById('topHist'), {
  type: 'bar',
  data: {
    datasets: [
      {type: 'line', data: zip(unmatchedKdeMass, unmatchedKdeMassDens), borderColor: unmatchedColor, borderWidth: 2, pointRadius: 0, cubicInterpolationMode: 'monotone', order: 0},
      {type: 'line', data: zip(matchedKdeMass, matchedKdeMassDens), borderColor: matchedColor, borderWidth: 2.2, pointRadius: 0, cubicInterpolationMode: 'monotone', order: 1},
      {type: 'bar', data: zip(massBins, massLayers.inner), backgroundColor: bothFill, grouped: false, barPercentage: 1, categoryPercentage: 1, order: 2},
      {type: 'bar', data: zip(massBins, massLayers.outer), backgroundColor: massLayers.outerColors, grouped: false, barPercentage: 1, categoryPercentage: 1, order: 3}
    ]
  },
  options: Object.assign({}, common, {
    layout: {padding: {left: 66.7, right: 86, top: 0, bottom: 3}},
    scales: {
      x: {type: 'linear', min: 13.6565, max: 15.2985, offset: false, display: false},
      y: {type: 'linear', min: 0, max: 3.2, display: false}
    }
  }),
  plugins: [{
    id: 'topAxis',
    afterDraw(chart) {
      const ctx = chart.ctx, a = chart.chartArea, sx = chart.scales.x;
      ctx.save();
      ctx.strokeStyle = spine;
      ctx.lineWidth = 1.3;
      line(ctx, a.left, a.bottom, a.right, a.bottom);
      ctx.lineWidth = 1;
      massTicks.forEach(v => { const x = sx.getPixelForValue(v); line(ctx, x, a.bottom, x, a.bottom - 4.5); });
      ctx.restore();
    }
  }]
});

// ---- main scatter ----
new Chart(document.getElementById('scatter'), {
  type: 'scatter',
  data: {
    datasets: [
      {label: seriesNames[0], data: toXY(matchedPts), pointRadius: 2.4, pointBorderWidth: 1,
       pointBorderColor: 'rgba(0,0,255,0.66)', pointBackgroundColor: 'rgba(0,0,0,0)', order: 0},
      {label: seriesNames[1], data: toXY(unmatchedPts), pointRadius: 2.4, pointBorderWidth: 1,
       pointBorderColor: 'rgba(128,128,128,0.62)', pointBackgroundColor: 'rgba(0,0,0,0)', order: 1}
    ]
  },
  options: Object.assign({}, common, {
    layout: {padding: {left: 0, right: 86, top: 94, bottom: 0}},
    scales: {
      x: {
        type: 'linear', min: 13.6565, max: 15.2985,
        afterBuildTicks: fixTicks(massTicks),
        afterFit: s => { s.height = 64.7; },
        grid: {display: false, drawTicks: false},
        border: {display: true, color: spine, width: 1.3},
        ticks: {padding: 8, font: {size: 13.5}, color: '#262626', callback: v => v.toFixed(1)}
      },
      y: {
        type: 'linear', min: 0, max: 0.9204,
        afterBuildTicks: fixTicks(zTicks),
        afterFit: s => { s.width = 66.7; },
        grid: {display: false, drawTicks: false},
        border: {display: true, color: spine, width: 1.3},
        ticks: {padding: 7, font: {size: 13.5}, color: '#262626', callback: v => v.toFixed(1)}
      }
    }
  }),
  plugins: [{
    id: 'scatterDecor',
    afterDraw(chart) {
      const ctx = chart.ctx, a = chart.chartArea, sx = chart.scales.x, sy = chart.scales.y;
      ctx.save();
      ctx.strokeStyle = spine;
      ctx.lineWidth = 1;
      massTicks.forEach(v => { const x = sx.getPixelForValue(v); line(ctx, x, a.bottom, x, a.bottom - 4.5); });
      zTicks.forEach(v => { const y = sy.getPixelForValue(v); line(ctx, a.left, y, a.left + 4.5, y); });
      // axis titles
      ctx.fillStyle = '#111';
      const serif = "'Liberation Serif', serif";
      drawParts(ctx, [
        {t: 'log', f: '21px ' + serif},
        {t: '10', f: '15px ' + serif, dy: 5, gap: 1},
        {t: '(', f: '21px ' + serif},
        {t: 'M', f: 'italic 21px ' + serif, gap: 1},
        {t: '200', f: '15px ' + serif, dy: 5},
        {t: ')', f: '21px ' + serif}
      ], (a.left + a.right) / 2, 574);
      ctx.save();
      ctx.translate(24.5, 315);
      ctx.rotate(-Math.PI / 2);
      ctx.font = "19px 'Liberation Sans', sans-serif";
      ctx.textAlign = 'center';
      ctx.textBaseline = 'middle';
      ctx.fillText('Z', 0, 0);
      ctx.restore();
      ctx.restore();
      drawLegend(ctx, {x: 310, y: 106, w: 183.3, h: 72.3, r: 4}, [
        {label: seriesNames[0], color: matchedColor, lw: 3, x0: 317.7, x1: 365, y: 124.3, tx: 380, font: "20px 'Liberation Sans', sans-serif"},
        {label: seriesNames[1], color: unmatchedColor, lw: 3, x0: 317.7, x1: 365, y: 158.3, tx: 380, font: "20px 'Liberation Sans', sans-serif"}
      ]);
    }
  }]
});

// ---- right marginal: redshift ----
const zLayers = histLayers(matchedZHist, unmatchedZHist);
new Chart(document.getElementById('rightHist'), {
  type: 'bar',
  data: {
    datasets: [
      {type: 'line', data: zipY(unmatchedKdeZ, unmatchedKdeZDens), borderColor: unmatchedColor, borderWidth: 2, pointRadius: 0, cubicInterpolationMode: 'monotone', order: 0},
      {type: 'line', data: zipY(matchedKdeZ, matchedKdeZDens), borderColor: matchedColor, borderWidth: 2.2, pointRadius: 0, cubicInterpolationMode: 'monotone', order: 1},
      {type: 'bar', data: zipY(zBins, zLayers.inner), backgroundColor: bothFill, grouped: false, barPercentage: 1, categoryPercentage: 1, order: 2},
      {type: 'bar', data: zipY(zBins, zLayers.outer), backgroundColor: zLayers.outerColors, grouped: false, barPercentage: 1, categoryPercentage: 1, order: 3}
    ]
  },
  options: Object.assign({}, common, {
    indexAxis: 'y',
    layout: {padding: {left: 10.7, right: 0, top: 94, bottom: 24.7}},
    scales: {
      x: {type: 'linear', min: 0, max: 4.135, display: false},
      y: {type: 'linear', min: 0, max: 0.9204, offset: false, display: false}
    }
  }),
  plugins: [{
    id: 'rightAxis',
    afterDraw(chart) {
      const ctx = chart.ctx, a = chart.chartArea, sy = chart.scales.y;
      ctx.save();
      ctx.strokeStyle = spine;
      ctx.lineWidth = 1.3;
      line(ctx, a.left, a.top, a.left, a.bottom);
      ctx.lineWidth = 1;
      zTicks.forEach(v => { const y = sy.getPixelForValue(v); line(ctx, a.left, y, a.left + 4.5, y); });
      ctx.restore();
    }
  }]
});

// ---- richness histogram ----
new Chart(document.getElementById('richness'), {
  type: 'line',
  data: {
    datasets: [
      {label: seriesNames[1], data: stepPoints(unmatchedRichness), borderColor: unmatchedColor, borderWidth: 1.9, stepped: true, pointRadius: 0, fill: false, order: 0},
      {label: seriesNames[0], data: stepPoints(matchedRichness), borderColor: matchedColor, borderWidth: 1.9, stepped: true, pointRadius: 0, fill: false, order: 1}
    ]
  },
  options: Object.assign({}, common, {
    layout: {padding: {left: 0, right: 43.6, top: 29.3, bottom: 0}},
    scales: {
      x: {
        type: 'linear', min: 14.8, max: 250,
        afterBuildTicks: fixTicks(richTicks),
        afterFit: s => { s.height = 43.3; },
        grid: {display: false, drawTicks: false},
        border: {display: false},
        ticks: {padding: 6, font: {size: 13}, color: '#262626'}
      },
      y: {
        type: 'logarithmic', min: 4.63e-6, max: 0.1,
        afterBuildTicks: fixTicks(densityTicks),
        afterFit: s => { s.width = 80; },
        grid: {display: false, drawTicks: false},
        border: {display: false},
        ticks: {display: false}
      }
    }
  }),
  plugins: [{
    id: 'richDecor',
    afterDraw(chart) {
      const ctx = chart.ctx, a = chart.chartArea, sx = chart.scales.x, sy = chart.scales.y;
      const serif = "'Liberation Serif', serif";
      ctx.save();
      ctx.strokeStyle = spine;
      ctx.lineWidth = 1.6;
      ctx.strokeRect(a.left, a.top, a.right - a.left, a.bottom - a.top);
      ctx.lineWidth = 1;
      richTicks.forEach(v => { const x = sx.getPixelForValue(v); line(ctx, x, a.bottom, x, a.bottom - 4.5); });
      densityTicks.forEach(v => { const y = sy.getPixelForValue(v); line(ctx, a.left, y, a.left + 5, y); });
      for (let e = -6; e <= -2; e++) {
        for (let k = 2; k <= 9; k++) {
          const v = k * Math.pow(10, e);
          if (v < sy.min || v > sy.max) continue;
          const y = sy.getPixelForValue(v);
          line(ctx, a.left, y, a.left + 2.5, y);
        }
      }
      // y tick labels 10^n
      ctx.fillStyle = '#262626';
      ctx.textBaseline = 'alphabetic';
      ctx.textAlign = 'left';
      densityTicks.forEach(v => {
        const y = sy.getPixelForValue(v);
        const sup = '\u2212' + Math.abs(Math.round(Math.log10(v)));
        ctx.font = '13.5px ' + serif;
        const w1 = ctx.measureText('10').width;
        ctx.font = '9.5px ' + serif;
        const w2 = ctx.measureText(sup).width;
        const x0 = a.left - 9 - w1 - w2;
        ctx.font = '13.5px ' + serif;
        ctx.fillText('10', x0, y + 5);
        ctx.font = '9.5px ' + serif;
        ctx.fillText(sup, x0 + w1 + 0.5, y - 1.5);
      });
      // titles
      ctx.fillStyle = '#111';
      drawParts(ctx, [
        {t: 'Observed Richness (', f: "15px 'Liberation Sans', sans-serif"},
        {t: '\u03bb', f: '15px ' + serif},
        {t: 'obs', f: '10.5px ' + serif, dy: 3.5},
        {t: ')', f: "15px 'Liberation Sans', sans-serif"}
      ], (a.left + a.right) / 2, 368);
      ctx.save();
      ctx.translate(31, (a.top + a.bottom) / 2);
      ctx.rotate(-Math.PI / 2);
      ctx.font = "15px 'Liberation Sans', sans-serif";
      ctx.textAlign = 'center';
      ctx.textBaseline = 'middle';
      ctx.fillText('Density', 0, 0);
      ctx.restore();
      ctx.restore();
      drawLegend(ctx, {x: 424, y: 35, w: 117, h: 46.7, r: 3}, [
        {label: seriesNames[0], color: matchedColor, lw: 2.5, x0: 429, x1: 459, y: 47.7, tx: 468.5, font: "13px 'Liberation Sans', sans-serif"},
        {label: seriesNames[1], color: unmatchedColor, lw: 2.5, x0: 429, x1: 459, y: 69, tx: 468.5, font: "13px 'Liberation Sans', sans-serif"}
      ]);
    }
  }]
});
</script>
</body>
</html>
